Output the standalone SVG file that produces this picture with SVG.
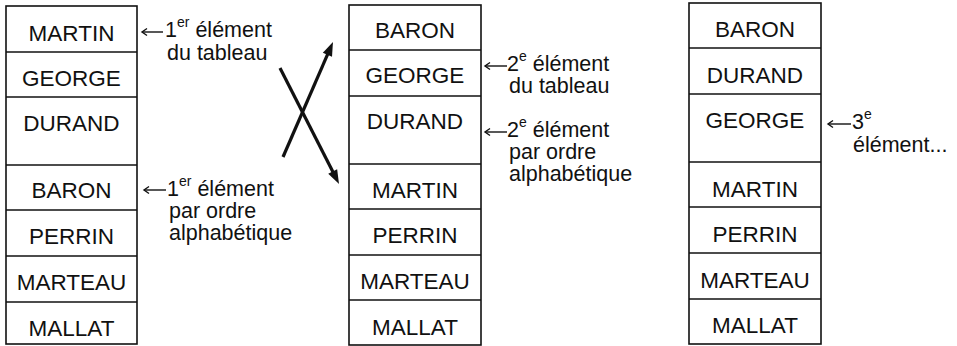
<svg xmlns="http://www.w3.org/2000/svg" width="957" height="346" viewBox="0 0 957 346">
<defs>
<style>
.box{fill:#fff;stroke:#111;stroke-width:1.6}
.sep{stroke:#111;stroke-width:1.5}
.name{font-family:"Liberation Sans",Arial,sans-serif;font-size:22.5px;fill:#111;text-anchor:middle}
.ann{font-family:"Liberation Sans",Arial,sans-serif;font-size:21.5px;fill:#111}
.sup{font-size:14px}
.small{stroke:#111;stroke-width:1.4;fill:none}
.big{stroke:#111;stroke-width:3.2;fill:none}
</style>
<marker id="open" markerUnits="userSpaceOnUse" markerWidth="10" markerHeight="10" refX="0" refY="0" orient="auto" overflow="visible">
<path d="M-5,-3.5 L0,0 L-5,3.5" fill="none" stroke="#111" stroke-width="1.4"/>
</marker>
<marker id="solid" markerUnits="userSpaceOnUse" markerWidth="16" markerHeight="12" refX="4" refY="5" orient="auto" overflow="visible">
<path d="M0,0 L14,5 L0,10 z" fill="#111"/>
</marker>
</defs>

<g id="tableau1">
<rect class="box" x="6" y="6" width="131" height="338"/>
<line class="sep" x1="6" y1="52" x2="137" y2="52"/>
<line class="sep" x1="6" y1="97" x2="137" y2="97"/>
<line class="sep" x1="6" y1="165" x2="137" y2="165"/>
<line class="sep" x1="6" y1="210" x2="137" y2="210"/>
<line class="sep" x1="6" y1="256" x2="137" y2="256"/>
<line class="sep" x1="6" y1="302" x2="137" y2="302"/>
<text class="name" x="71.5" y="41">MARTIN</text>
<text class="name" x="71.5" y="86">GEORGE</text>
<text class="name" x="71.5" y="131">DURAND</text>
<text class="name" x="71.5" y="198">BARON</text>
<text class="name" x="71.5" y="244">PERRIN</text>
<text class="name" x="71.5" y="290">MARTEAU</text>
<text class="name" x="71.5" y="336">MALLAT</text>
</g>

<g id="tableau2">
<rect class="box" x="349" y="5" width="132" height="340"/>
<line class="sep" x1="349" y1="50" x2="481" y2="50"/>
<line class="sep" x1="349" y1="96" x2="481" y2="96"/>
<line class="sep" x1="349" y1="164" x2="481" y2="164"/>
<line class="sep" x1="349" y1="209" x2="481" y2="209"/>
<line class="sep" x1="349" y1="255" x2="481" y2="255"/>
<line class="sep" x1="349" y1="300" x2="481" y2="300"/>
<text class="name" x="415" y="38">BARON</text>
<text class="name" x="415" y="83">GEORGE</text>
<text class="name" x="415" y="129">DURAND</text>
<text class="name" x="415" y="198">MARTIN</text>
<text class="name" x="415" y="243">PERRIN</text>
<text class="name" x="415" y="289">MARTEAU</text>
<text class="name" x="415" y="335">MALLAT</text>
</g>

<g id="tableau3">
<rect class="box" x="689" y="3" width="132" height="341"/>
<line class="sep" x1="689" y1="48" x2="821" y2="48"/>
<line class="sep" x1="689" y1="94" x2="821" y2="94"/>
<line class="sep" x1="689" y1="162" x2="821" y2="162"/>
<line class="sep" x1="689" y1="207" x2="821" y2="207"/>
<line class="sep" x1="689" y1="253" x2="821" y2="253"/>
<line class="sep" x1="689" y1="299" x2="821" y2="299"/>
<text class="name" x="755" y="37">BARON</text>
<text class="name" x="755" y="83">DURAND</text>
<text class="name" x="755" y="128">GEORGE</text>
<text class="name" x="755" y="197">MARTIN</text>
<text class="name" x="755" y="242">PERRIN</text>
<text class="name" x="755" y="288">MARTEAU</text>
<text class="name" x="755" y="333">MALLAT</text>
</g>

<g id="annotations">
<text class="ann" x="165" y="37">1<tspan class="sup" dy="-10">er</tspan><tspan dy="10"> élément</tspan></text>
<text class="ann" x="167" y="60">du tableau</text>

<text class="ann" x="167" y="196">1<tspan class="sup" dy="-10">er</tspan><tspan dy="10"> élément</tspan></text>
<text class="ann" x="169" y="218">par ordre</text>
<text class="ann" x="169" y="240">alphabétique</text>

<text class="ann" x="507" y="71">2<tspan class="sup" dy="-10">e</tspan><tspan dy="10"> élément</tspan></text>
<text class="ann" x="509" y="93">du tableau</text>

<text class="ann" x="507" y="137">2<tspan class="sup" dy="-10">e</tspan><tspan dy="10"> élément</tspan></text>
<text class="ann" x="509" y="159">par ordre</text>
<text class="ann" x="509" y="181">alphabétique</text>

<text class="ann" x="852" y="129">3<tspan class="sup" dy="-10">e</tspan></text>
<text class="ann" x="853" y="152">élément...</text>
</g>

<g id="connecteurs">
<line class="small" x1="163" y1="32" x2="142" y2="32" marker-end="url(#open)"/>
<line class="small" x1="166" y1="190" x2="144" y2="190" marker-end="url(#open)"/>
<line class="small" x1="507" y1="66" x2="485" y2="66" marker-end="url(#open)"/>
<line class="small" x1="507" y1="132" x2="485" y2="132" marker-end="url(#open)"/>
<line class="small" x1="851" y1="124" x2="828" y2="124" marker-end="url(#open)"/>
<line class="big" x1="280" y1="68" x2="334.5" y2="175.1" marker-end="url(#solid)"/>
<line class="big" x1="283" y1="157" x2="329" y2="51.2" marker-end="url(#solid)"/>
</g>
</svg>
